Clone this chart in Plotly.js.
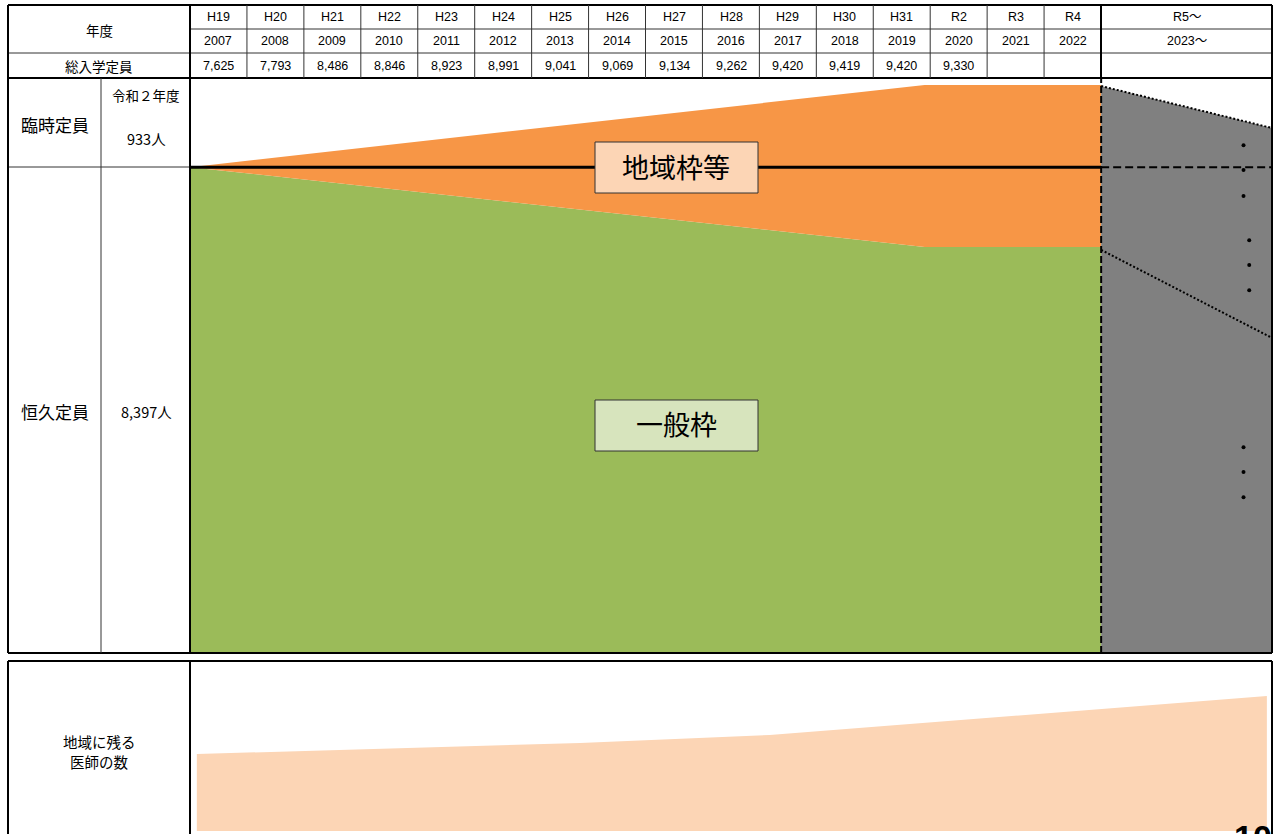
<!DOCTYPE html>
<html><head><meta charset="utf-8">
<script src="https://cdn.plot.ly/plotly-3.0.1.min.js"></script>
<style>html,body{margin:0;padding:0;background:#fff;}#chart{width:1274px;height:834px;}</style>
</head><body><div id="chart"></div>
<script>
// ---- table data ----
const eraLabels = ['H19','H20','H21','H22','H23','H24','H25','H26','H27','H28','H29','H30','H31','R2','R3','R4'];
const years = [2007,2008,2009,2010,2011,2012,2013,2014,2015,2016,2017,2018,2019,2020,2021,2022];
const totalCapacity = ['7,625','7,793','8,486','8,846','8,923','8,991','9,041','9,069','9,134','9,262','9,420','9,419','9,420','9,330','',''];
const futureEra = 'R5〜', futureYear = '2023〜';

// ---- schematic area values (relative height, %) ----
const areaX = [2006.5, 2019.4, 2022.5];
const generalTop = [84.5, 70.6, 70.6];      // 一般枠
const regionalTop = [84.5, 98.8, 98.8];     // 地域枠等 (total)
const permanentLevel = 84.5;                // 恒久定員 line
const futureX = [2022.5, 2025.5];
const futureTop = [98.6, 91.3];
const futureLower = [70.1, 54.8];
const dotX = [2025.0,2025.0,2025.0,2025.1,2025.1,2025.1,2025.0,2025.0,2025.0];
const dotY = [88.3, 84.0, 79.5, 71.8, 67.5, 63.1, 35.8, 31.5, 27.1];

// ---- 地域に残る医師の数 (relative) ----
const docX = [2006.62, 2013.35, 2016.68, 2025.41];
const docTop = [46.2, 52.6, 57.2, 79.8];
const docBase = 1.7;

const W = 1274, H = 834;
const px = x => x / W, py = y => 1 - y / H;
const FONT = 'Liberation Sans, Arial, Noto Sans CJK JP, sans-serif';
const JFONT = 'Noto Sans CJK JP, sans-serif';

const traces = [
  {x: areaX, y: generalTop, type:'scatter', mode:'lines', line:{width:0, color:'#9BBB59'}, fill:'tozeroy', fillcolor:'#9BBB59', hoverinfo:'skip'},
  {x: areaX, y: regionalTop, type:'scatter', mode:'lines', line:{width:0, color:'#F79646'}, fill:'tonexty', fillcolor:'#F79646', hoverinfo:'skip'},
  {x: [futureX[0], futureX[1], futureX[1], futureX[0]], y: [futureTop[0], futureTop[1], 0, 0], type:'scatter', mode:'lines', line:{width:0}, fill:'toself', fillcolor:'#808080', hoverinfo:'skip'},
  {x: [areaX[0], areaX[2]], y: [permanentLevel, permanentLevel], type:'scatter', mode:'lines', line:{color:'#000', width:3}, hoverinfo:'skip'},
  {x: futureX, y: [permanentLevel, permanentLevel], type:'scatter', mode:'lines', line:{color:'#000', width:2, dash:'8px,4px'}, hoverinfo:'skip'},
  {x: futureX, y: futureTop, type:'scatter', mode:'lines', line:{color:'#000', width:2, dash:'2px,2px'}, hoverinfo:'skip'},
  {x: futureX, y: futureLower, type:'scatter', mode:'lines', line:{color:'#000', width:2, dash:'2px,2px'}, hoverinfo:'skip'},
  {x: [futureX[0], futureX[0]], y: [0, 100], type:'scatter', mode:'lines', line:{color:'#000', width:2, dash:'7px,3px'}, hoverinfo:'skip'},
  {x: dotX, y: dotY, type:'scatter', mode:'markers', marker:{color:'#000', size:4}, hoverinfo:'skip'},
  {x: docX.concat([docX[3], docX[0]]), y: docTop.concat([docBase, docBase]), xaxis:'x', yaxis:'y2', type:'scatter', mode:'lines', line:{width:0}, fill:'toself', fillcolor:'#FCD5B5', hoverinfo:'skip'}
];

const shapes = [];
function hl(x0, x1, y, w, c){ shapes.push({type:'line', xref:'paper', yref:'paper', x0:px(x0), x1:px(x1), y0:py(y), y1:py(y), line:{color:c||'#000', width:w}}); }
function vl(x, y0, y1, w, c){ shapes.push({type:'line', xref:'paper', yref:'paper', x0:px(x), x1:px(x), y0:py(y0), y1:py(y1), line:{color:c||'#000', width:w}}); }

const colW = (1101 - 190) / 16;
hl(8, 1272, 5, 2);
hl(190, 1272, 29, 1, '#333');
hl(8, 1272, 53, 1, '#333');
hl(8, 1272, 78, 2);
hl(8, 190, 167, 1, '#333');
hl(8, 1272, 653, 2);
hl(8, 1272, 661, 2);
vl(8, 5, 653, 2); vl(8, 661, 834, 2);
vl(101, 78, 653, 1, '#333');
vl(190, 5, 653, 2); vl(190, 661, 834, 2);
for (let i = 1; i < 16; i++) vl(190 + i*colW, 5, 78, 1, '#333');
vl(1101, 5, 78, 2);
vl(1272, 5, 653, 2); vl(1272, 661, 834, 2);
shapes.push({type:'rect', xref:'paper', yref:'paper', x0:px(595), x1:px(758), y0:py(193), y1:py(142), fillcolor:'#FCD5B5', line:{color:'#333', width:1}});
shapes.push({type:'rect', xref:'paper', yref:'paper', x0:px(595), x1:px(758), y0:py(451), y1:py(400), fillcolor:'#D7E4BD', line:{color:'#333', width:1}});

const ann = [];
function t(x, y, text, size, font, xref){ ann.push({x: xref ? x : px(x), y: py(y), xref: xref || 'paper', yref:'paper', text: text, showarrow:false, font:{family: font || FONT, size: size, color:'#000'}, xanchor:'center', yanchor:'middle'}); }
years.forEach((yr, i) => {
  t(yr, 17, eraLabels[i], 12.5, FONT, 'x');
  t(yr, 41, String(yr), 12.5, FONT, 'x');
  if (totalCapacity[i]) t(yr, 66, totalCapacity[i], 12.5, FONT, 'x');
});
t(1187, 17, futureEra, 12.5);
t(1187, 41, futureYear, 12.5);
t(99, 30, '年度', 13.5, JFONT);
t(99, 66, '総入学定員', 13.5, JFONT);
t(55, 125, '臨時定員', 17, JFONT);
t(146, 95, '令和２年度', 13.5, JFONT);
t(146, 139, '933人', 14.5, JFONT);
t(55, 411, '恒久定員', 17, JFONT);
t(146, 411, '8,397人', 14.5, JFONT);
t(676, 166, '地域枠等', 27, JFONT);
t(676, 424, '一般枠', 27, JFONT);
t(99, 741, '地域に残る', 14.5, JFONT);
t(99, 761, '医師の数', 14.5, JFONT);
ann.push({x: px(1232), y: py(816), xref:'paper', yref:'paper', text:'<b>10</b>', showarrow:false, xanchor:'left', yanchor:'top', font:{family:'Liberation Sans, Arial', size:34, color:'#000'}});

const layout = {
  width: W, height: H, margin:{l:0, r:0, t:0, b:0}, showlegend:false,
  paper_bgcolor:'#fff', plot_bgcolor:'rgba(0,0,0,0)',
  xaxis:{domain:[px(190), px(1272)], range:[2006.5, 2025.5], visible:false, fixedrange:true},
  yaxis:{domain:[py(653), py(78)], range:[0, 100], visible:false, fixedrange:true},
  yaxis2:{domain:[0, py(661)], range:[0, 100], visible:false, fixedrange:true, anchor:'x'},
  shapes: shapes, annotations: ann
};
Plotly.newPlot('chart', traces, layout, {staticPlot:true, displayModeBar:false});
</script></body></html>
